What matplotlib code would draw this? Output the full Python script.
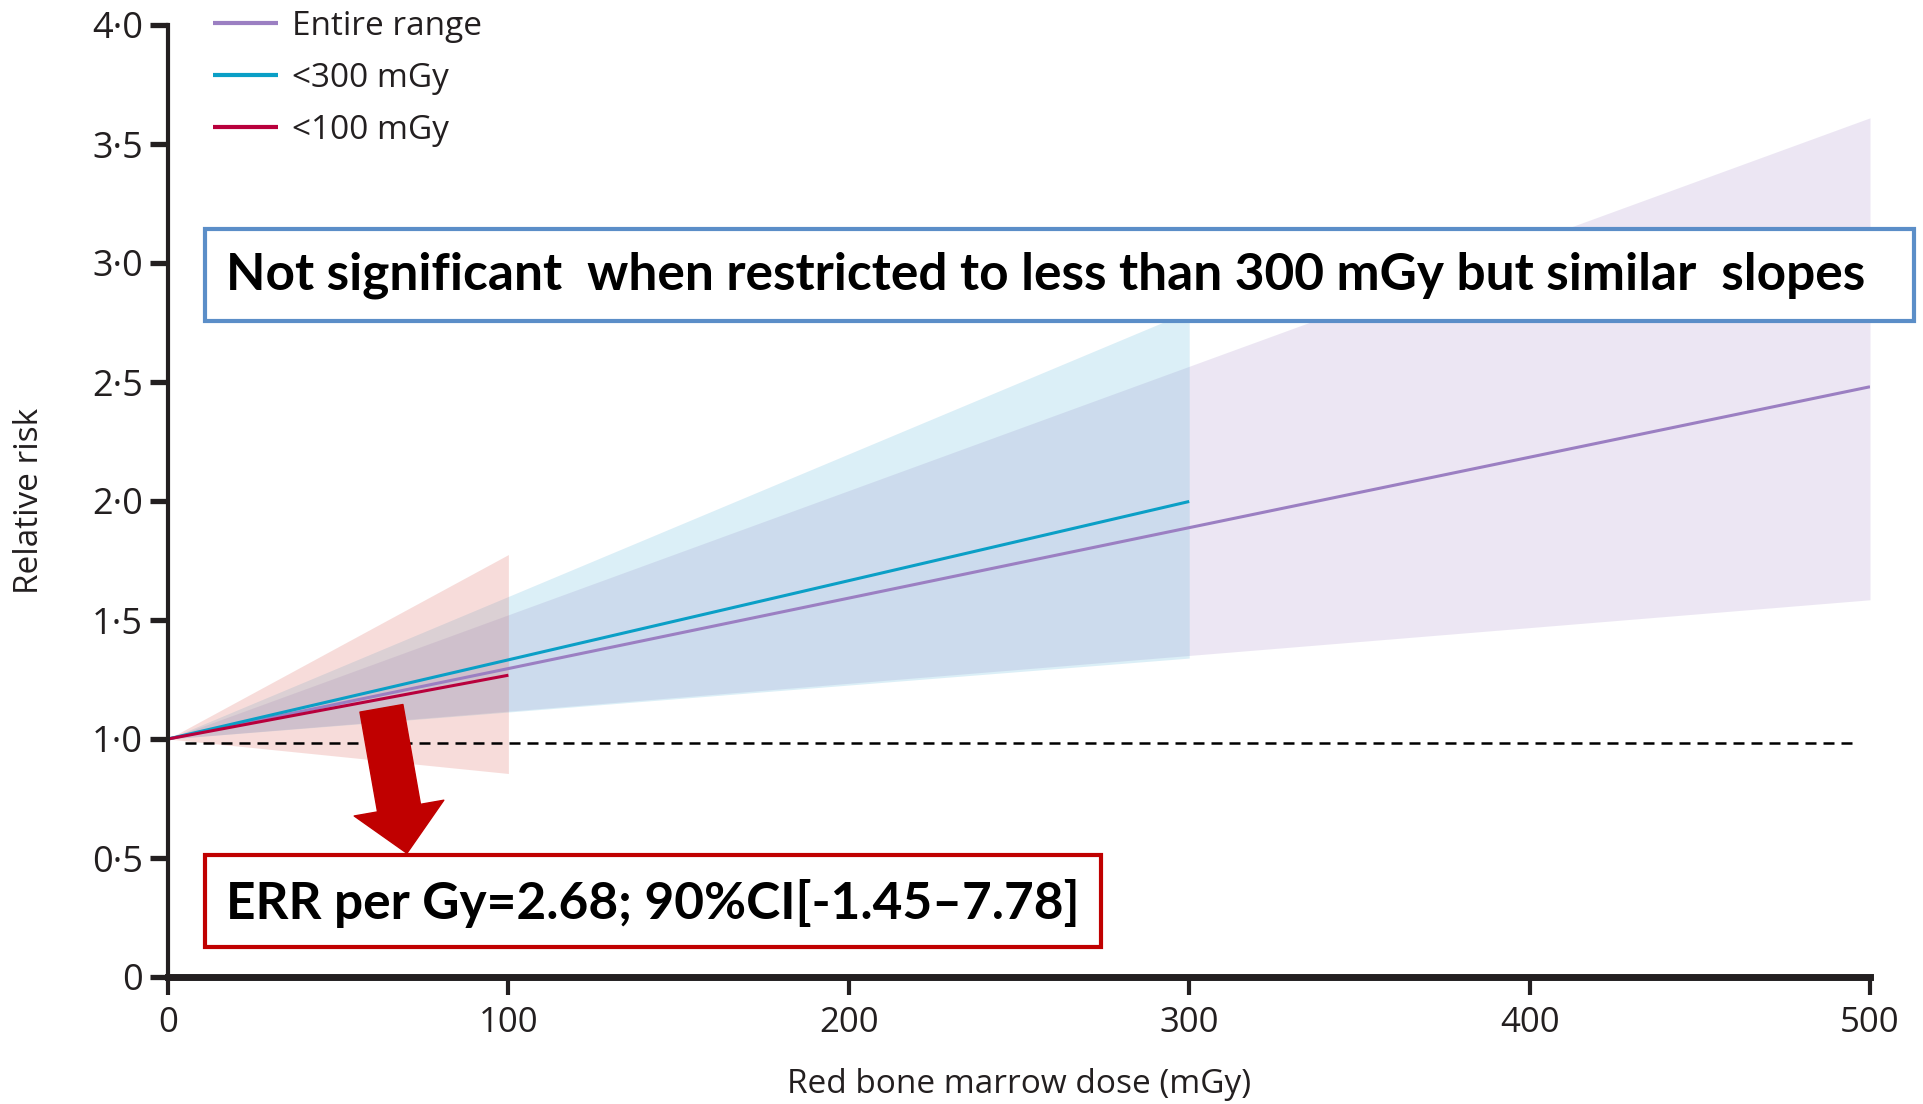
import matplotlib
matplotlib.use('Agg')
import matplotlib.pyplot as plt
from matplotlib.patches import Rectangle

plt.rcParams['font.family'] = ['Open Sans', 'DejaVu Sans']

# fitted relative risk lines and 90% CI bands (dose in mGy)
dose_all = [0, 500]
rr_all = [1.0, 2.48]
lo_all = [1.0, 1.585]
hi_all = [1.0, 3.61]

dose_300 = [0, 300]
rr_300 = [1.0, 1.998]
lo_300 = [1.0, 1.34]
hi_300 = [1.0, 2.797]

dose_100 = [0, 100]
rr_100 = [1.0, 1.268]
lo_100 = [1.0, 0.855]
hi_100 = [1.0, 1.775]

ref_x = [5, 496]
ref_y = [0.985, 0.985]

labels = ['Entire range', '<300 mGy', '<100 mGy']
xticks = [0, 100, 200, 300, 400, 500]
yticks = [0, 0.5, 1.0, 1.5, 2.0, 2.5, 3.0, 3.5, 4.0]
ytick_labels = ['0', '0·5', '1·0', '1·5', '2·0', '2·5', '3·0', '3·5', '4·0']

c_all = '#9b7fc2'
c_300 = '#0a9fc6'
c_100 = '#b8003c'
dark = '#231f20'

W, H = 1924, 1104
fig = plt.figure(figsize=(W / 100, H / 100), dpi=100)
ax = fig.add_axes([168 / W, 127 / H, 1702 / W, 952 / H])

# bands
ax.fill_between(dose_all, lo_all, hi_all, color=c_all, alpha=0.19, lw=0)
ax.fill_between(dose_300, lo_300, hi_300, color='#4fb0d8', alpha=0.2, lw=0)
ax.fill_between(dose_100, lo_100, hi_100, color='#dc645a', alpha=0.22, lw=0)

ax.plot(ref_x, ref_y, color='black', lw=1.8, dashes=(4.4, 2.8))

l1, = ax.plot(dose_all, rr_all, color=c_all, lw=2.2, solid_capstyle='butt')
l2, = ax.plot(dose_300, rr_300, color=c_300, lw=2.2, solid_capstyle='butt')
l3, = ax.plot(dose_100, rr_100, color=c_100, lw=2.2, solid_capstyle='butt')

ax.set_xlim(0, 500)
ax.set_ylim(0, 4.0)
ax.set_xticks(xticks)
ax.set_yticks(yticks)
ax.set_yticklabels(ytick_labels)
for s in ['top', 'right']:
    ax.spines[s].set_visible(False)
ax.spines['left'].set_linewidth(3.0)
ax.spines['bottom'].set_linewidth(5.0)
ax.spines['left'].set_color(dark)
ax.spines['bottom'].set_color(dark)
ax.tick_params(axis='y', direction='out', length=13, width=3.8, color=dark,
               labelsize=26, labelcolor=dark, pad=5)
ax.tick_params(axis='x', direction='out', length=13, width=3.0, color=dark,
               labelsize=25, labelcolor=dark, pad=8)
ax.set_xlabel('Red bone marrow dose (mGy)', fontsize=24, color=dark, labelpad=20)
ax.set_ylabel('Relative risk', fontsize=24, color=dark, labelpad=33)

leg = ax.legend([l1, l2, l3], labels, loc='upper left', frameon=False,
                bbox_to_anchor=(213 / W, 1 - 10 / H), bbox_transform=fig.transFigure,
                fontsize=24, handlelength=1.95, handletextpad=0.42,
                labelspacing=0.57, borderpad=0, borderaxespad=0)
for t in leg.get_texts():
    t.set_color(dark)
for h in leg.get_lines():
    h.set_linewidth(3.0)

# red arrow pointing to the box
ax.annotate('', xy=(70.2, 0.52), xytext=(62.7, 1.129),
            arrowprops=dict(arrowstyle='simple,head_width=6.55,head_length=3.3,tail_width=3.14',
                            mutation_scale=10, color='#c00000', shrinkA=0, shrinkB=0))

# annotation boxes
fig.add_artist(Rectangle((205 / W, 1 - 321 / H), (1914 - 205) / W, 92 / H,
                         transform=fig.transFigure, facecolor='white',
                         edgecolor='#5b8ec8', lw=3))
fig.text(226 / W, 1 - 275 / H,
         'Not significant  when restricted to less than 300 mGy but similar  slopes',
         fontsize=37, fontweight='bold', family=['Lato', 'DejaVu Sans'],
         ha='left', va='center', color='black')

fig.add_artist(Rectangle((205 / W, 1 - 947 / H), (1101 - 205) / W, 92 / H,
                         transform=fig.transFigure, facecolor='white',
                         edgecolor='#c00000', lw=3))
fig.text(226 / W, 1 - 903 / H, 'ERR per Gy=2.68; 90%CI[-1.45–7.78]',
         fontsize=37, fontweight='bold', family=['Lato', 'DejaVu Sans'],
         ha='left', va='center', color='black')

fig.savefig('out.png', dpi=100)
